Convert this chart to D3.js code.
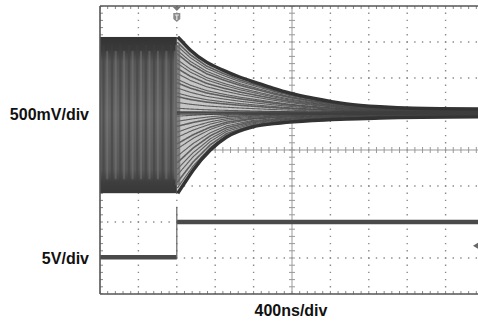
<!DOCTYPE html>
<html><head><meta charset="utf-8">
<script src="https://cdn.jsdelivr.net/npm/d3@7"></script>
<style>html,body{margin:0;padding:0;background:#fff;} svg{display:block;}</style>
</head><body><svg id="c" width="478" height="331"></svg>
<script>
// ---- data ----
const timePerDivNs = 400;
const xDivs = 10;
const yDivs = 8;
const ch1VoltsPerDiv = 0.5;
const ch2VoltsPerDiv = 5;
const triggerTimeNs = 800;
const ch1Settle = 0.515;
// upper envelope of the channel 1 waveform [time ns, volts]
const ch1TopEnvelope = [[0,1.57],[810,1.57],[860,1.50],[940,1.39],[1110,1.22],[1280,1.11],[1460,1.01],[1640,0.93],[1800,0.86],[1980,0.79],[2220,0.72],[2570,0.64],[2920,0.60],[3260,0.58],[4000,0.57]];
// lower envelope [time ns, volts]
const ch1BottomEnvelope = [[0,-0.60],[810,-0.60],[900,-0.42],[970,-0.28],[1150,0.0],[1320,0.18],[1590,0.32],[1880,0.375],[2220,0.41],[2570,0.43],[2920,0.445],[4000,0.46]];
// starting levels (volts) of the individual decaying traces right after the trigger
const ch1FanStartLevels = [1.49,1.44,1.38,1.33,1.25,1.20,1.13,1.06,0.98,0.93,0.86,0.79,0.74,0.66,0.58,0.52,0.47,0.40,0.33,0.25,0.18,0.09,0.02,-0.08,-0.17,-0.26,-0.34,-0.44,-0.52];
// channel 2 (logic step)
const ch2Times = [0, 800, 4000];
const ch2LowLevel = -1.6;
const ch2HighLevel = 3.3;
const ch2Overshoot = 5.4;
const ch2GroundDiv = -2.658;
const yAxisLabels = ["500mV/div", "5V/div"];
const xAxisLabel = "400ns/div";

// ---- layout ----
const L = 100, T = 6, divW = 38.4, divH = 36;
const R = L + xDivs * divW, B = T + yDivs * divH;
const svg = d3.select("#c");
svg.append("rect").attr("width",478).attr("height",331).attr("fill","#fff");

const x = d3.scaleLinear().domain([0, xDivs * timePerDivNs]).range([L, R]);
const yDiv = d3.scaleLinear().domain([-yDivs/2, yDivs/2]).range([B, T]);
const y1 = v => yDiv(v / ch1VoltsPerDiv);
const y2 = v => yDiv(ch2GroundDiv + v / ch2VoltsPerDiv);

svg.append("clipPath").attr("id","clip").append("rect").attr("x",L).attr("y",T).attr("width",R-L).attr("height",B-T);
const g = svg.append("g").attr("clip-path","url(#clip)");

// ---- grid ----
const grid = g.append("g");
const cx = x(xDivs/2*timePerDivNs), cy = yDiv(0);
for (let i = 1; i < xDivs; i++) {
  if (i === xDivs/2) continue;
  const xx = L + i*divW;
  grid.append("line").attr("x1",xx).attr("x2",xx).attr("y1",T).attr("y2",B)
    .attr("stroke","#8a8a8a").attr("stroke-width",1.4)
    .attr("stroke-dasharray",`1.4 ${divH/5-1.4}`).attr("stroke-dashoffset",0.7);
}
for (let j = 1; j < yDivs; j++) {
  if (j === yDivs/2) continue;
  const yy = T + j*divH;
  grid.append("line").attr("x1",L).attr("x2",R).attr("y1",yy).attr("y2",yy)
    .attr("stroke","#8a8a8a").attr("stroke-width",1.4)
    .attr("stroke-dasharray",`1.4 ${divW/5-1.4}`).attr("stroke-dashoffset",0.7);
}
// center axes
grid.append("line").attr("x1",cx).attr("x2",cx).attr("y1",T).attr("y2",B).attr("stroke","#9a9a9a").attr("stroke-width",1);
grid.append("line").attr("x1",L).attr("x2",R).attr("y1",cy).attr("y2",cy).attr("stroke","#9a9a9a").attr("stroke-width",1);
d3.range(0, xDivs*5+1).forEach(i => {
  const xx = L + i*divW/5;
  grid.append("line").attr("x1",xx).attr("x2",xx).attr("y1",cy-3).attr("y2",cy+3).attr("stroke","#999").attr("stroke-width",1);
  grid.append("line").attr("x1",xx).attr("x2",xx).attr("y1",T).attr("y2",T+3).attr("stroke","#888").attr("stroke-width",1);
  grid.append("line").attr("x1",xx).attr("x2",xx).attr("y1",B-3).attr("y2",B).attr("stroke","#888").attr("stroke-width",1);
});
d3.range(0, yDivs*5+1).forEach(j => {
  const yy = T + j*divH/5;
  grid.append("line").attr("x1",cx-3).attr("x2",cx+3).attr("y1",yy).attr("y2",yy).attr("stroke","#999").attr("stroke-width",1);
  grid.append("line").attr("x1",L).attr("x2",L+3).attr("y1",yy).attr("y2",yy).attr("stroke","#888").attr("stroke-width",1);
});

// ---- channel 1 ----
const topI = d3.scaleLinear().domain(ch1TopEnvelope.map(d=>d[0])).range(ch1TopEnvelope.map(d=>d[1]));
const botI = d3.scaleLinear().domain(ch1BottomEnvelope.map(d=>d[0])).range(ch1BottomEnvelope.map(d=>d[1]));
const preEnd = 810;
const c1 = g.append("g");
const pTop = y1(topI(0)), pBot = y1(botI(0)), pH = pBot - pTop;
// pre-trigger oscillation block
const grad = svg.append("defs").append("linearGradient").attr("id","pg").attr("x1",0).attr("x2",0).attr("y1",0).attr("y2",1);
[[0,"#333"],[0.08,"#3a3a3a"],[0.16,"#555"],[0.5,"#666"],[0.85,"#575757"],[0.93,"#3e3e3e"],[1,"#383838"]].forEach(s =>
  grad.append("stop").attr("offset",s[0]).attr("stop-color",s[1]));
c1.append("rect").attr("x",x(0)).attr("y",pTop).attr("width",x(preEnd)-x(0)).attr("height",pH).attr("fill","url(#pg)");
d3.range(25, preEnd, 88).forEach(t => {
  c1.append("rect").attr("x",x(t)).attr("y",pTop+8).attr("width",2.2).attr("height",pH-16).attr("fill","#3f3f3f").attr("opacity",0.55);
});
d3.range(65, preEnd, 88).forEach(t => {
  c1.append("rect").attr("x",x(t)).attr("y",pTop+14).attr("width",2).attr("height",pH-28).attr("fill","#8a8a8a").attr("opacity",0.35);
});

// post-trigger fan
const ts = d3.range(triggerTimeNs, xDivs*timePerDivNs + 1, 10);
const area = d3.area().x(t=>x(t)).y0(t=>y1(botI(t))).y1(t=>y1(topI(t))).curve(d3.curveMonotoneX);
c1.append("path").attr("d",area(ts.filter(t=>t>=preEnd-10))).attr("fill","#c6c6c6");
const topSpan = topI(triggerTimeNs) - ch1Settle, botSpan = ch1Settle - botI(triggerTimeNs);
const line = d3.line().x(d=>x(d[0])).y(d=>y1(d[1])).curve(d3.curveMonotoneX);
ch1FanStartLevels.forEach((v0, i) => {
  const pts = ts.map(t => {
    const n = v0 >= ch1Settle ? (topI(t)-ch1Settle)/topSpan : (ch1Settle-botI(t))/botSpan;
    return [t, ch1Settle + (v0 - ch1Settle)*n];
  });
  c1.append("path").attr("d",line(pts)).attr("fill","none").attr("stroke","#444").attr("stroke-width",i%3===0?1.6:1.1).attr("opacity",0.8);
});
// transition at trigger
c1.append("rect").attr("x",x(preEnd)-2.5).attr("y",pTop+8).attr("width",5).attr("height",pH-16).attr("fill","#666").attr("opacity",0.75);
c1.append("path").attr("d",line(ch1TopEnvelope.slice(1))).attr("fill","none").attr("stroke","#333").attr("stroke-width",3.4);
c1.append("path").attr("d",line(ch1BottomEnvelope.slice(1))).attr("fill","none").attr("stroke","#333").attr("stroke-width",3.4);
c1.append("path").attr("d",line(ts.map(t=>[t,ch1Settle]))).attr("fill","none").attr("stroke","#3a3a3a").attr("stroke-width",4).attr("opacity",0.6);

// ---- channel 2 ----
const c2 = g.append("g");
c2.append("line").attr("x1",x(ch2Times[0])).attr("x2",x(ch2Times[1])).attr("y1",y2(ch2LowLevel)).attr("y2",y2(ch2LowLevel)).attr("stroke","#4a4a4a").attr("stroke-width",4.5);
c2.append("line").attr("x1",x(ch2Times[1])).attr("x2",x(ch2Times[2])).attr("y1",y2(ch2HighLevel)).attr("y2",y2(ch2HighLevel)).attr("stroke","#4a4a4a").attr("stroke-width",4.5);
c2.append("line").attr("x1",x(ch2Times[1])).attr("x2",x(ch2Times[1])).attr("y1",y2(ch2LowLevel)).attr("y2",y2(ch2Overshoot)).attr("stroke","#666").attr("stroke-width",1.2);

// ---- frame ----
svg.append("line").attr("x1",L).attr("x2",L).attr("y1",T).attr("y2",B).attr("stroke","#555").attr("stroke-width",1.6);
svg.append("line").attr("x1",L).attr("x2",R).attr("y1",T).attr("y2",T).attr("stroke","#555").attr("stroke-width",1.6);
svg.append("line").attr("x1",L).attr("x2",R).attr("y1",B).attr("y2",B).attr("stroke","#555").attr("stroke-width",1.6);

// trigger marker
const tx = x(triggerTimeNs);
svg.append("path").attr("d",`M${tx-4},${T+1}L${tx+4},${T+1}L${tx},${T+5}Z`).attr("fill","#777");
svg.append("path").attr("d",`M${tx-3.5},${T+7}L${tx+3.5},${T+7}L${tx+3.5},${T+13}L${tx},${T+16}L${tx-3.5},${T+13}Z`).attr("fill","#8a8a8a");
svg.append("path").attr("d",`M${tx-2},${T+9}L${tx+2},${T+9}M${tx},${T+9}L${tx},${T+14}`).attr("stroke","#e8e8e8").attr("stroke-width",1.2);
// ground marker for ch2
const gy = yDiv(ch2GroundDiv);
svg.append("path").attr("d",`M473,${gy}L478,${gy-3}L478,${gy+3}Z`).attr("fill","#666");

// ---- labels ----
const font = "'Liberation Sans', Arial, Helvetica, sans-serif";
svg.append("text").attr("x",89).attr("y",119.5).attr("text-anchor","end").attr("font-family",font).attr("font-weight","bold").attr("font-size",16).attr("fill","#111").text(yAxisLabels[0]);
svg.append("text").attr("x",89).attr("y",263.5).attr("text-anchor","end").attr("font-family",font).attr("font-weight","bold").attr("font-size",16).attr("fill","#111").text(yAxisLabels[1]);
svg.append("text").attr("x",291).attr("y",316).attr("text-anchor","middle").attr("font-family",font).attr("font-weight","bold").attr("font-size",16).attr("fill","#111").text(xAxisLabel);
</script></body></html>
